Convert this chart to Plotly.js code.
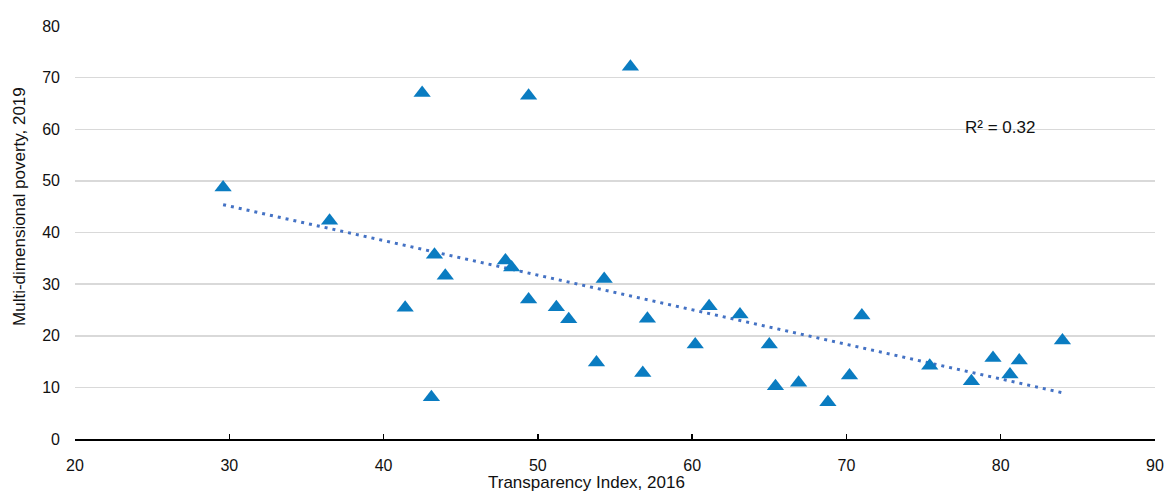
<!DOCTYPE html>
<html>
<head>
<meta charset="utf-8">
<script src="https://cdn.plot.ly/plotly-3.0.1.min.js"></script>
<style>
  html, body { margin: 0; padding: 0; background: #fff; }
  #chart { width: 1167px; height: 494px; }
</style>
</head>
<body>
<div id="chart"></div>
<script>
// Transparency Index (2016) against multi-dimensional poverty (2019), one point per country
const transparencyIndex = [
  29.6, 36.5, 42.5, 43.3, 41.4, 44.0, 43.1, 49.4, 56.0, 47.9, 48.3,
  49.4, 51.2, 52.0, 54.3, 53.8, 57.1, 56.8, 60.2, 61.1, 63.1, 65.0,
  65.4, 66.9, 68.8, 70.2, 71.0, 75.4, 78.1, 79.5, 80.6, 81.2, 84.0
];
const multiDimPoverty = [
  48.7, 42.3, 67.0, 35.7, 25.4, 31.6, 8.1, 66.5, 72.1, 34.6, 33.2,
  27.0, 25.5, 23.2, 31.0, 14.8, 23.3, 12.8, 18.3, 25.7, 24.1, 18.3,
  10.2, 10.9, 7.1, 12.3, 23.9, 14.2, 11.2, 15.7, 12.5, 15.2, 19.1
];
const xTickValues = [20, 30, 40, 50, 60, 70, 80, 90];
const yTickValues = [0, 10, 20, 30, 40, 50, 60, 70, 80];
const xAxisLabel = 'Transparency Index, 2016';
const yAxisLabel = 'Multi-dimensional poverty, 2019';
const rSquaredLabel = 'R² = 0.32';

// Ordinary least-squares trend line over the observed x range
function linearFit(xs, ys) {
  const n = xs.length;
  const mx = xs.reduce((a, b) => a + b, 0) / n;
  const my = ys.reduce((a, b) => a + b, 0) / n;
  let sxy = 0, sxx = 0;
  for (let i = 0; i < n; i++) {
    sxy += (xs[i] - mx) * (ys[i] - my);
    sxx += (xs[i] - mx) * (xs[i] - mx);
  }
  const slope = sxy / sxx;
  return { slope: slope, intercept: my - slope * mx };
}
const fit = linearFit(transparencyIndex, multiDimPoverty);
const xMin = Math.min(...transparencyIndex);
const xMax = Math.max(...transparencyIndex);
const trendX = [xMin, xMax];
const trendY = trendX.map(x => fit.intercept + fit.slope * x);

const font = 'Liberation Sans, Arial, sans-serif';

const traces = [
  {
    x: trendX, y: trendY,
    type: 'scatter', mode: 'lines',
    line: { color: '#4472C4', width: 3, dash: '3px,5px' },
    hoverinfo: 'skip'
  },
  {
    x: transparencyIndex, y: multiDimPoverty,
    type: 'scatter', mode: 'markers',
    marker: { symbol: 'triangle-up', size: 15, color: '#0A7CC1' }
  }
];

const layout = {
  width: 1167, height: 494,
  margin: { l: 75, r: 12, t: 26, b: 55 },
  paper_bgcolor: '#fff', plot_bgcolor: '#fff',
  showlegend: false,
  font: { family: font, size: 16, color: '#111' },
  xaxis: {
    range: [20, 90],
    tickvals: xTickValues,
    showgrid: false, zeroline: false,
    showline: true, linecolor: '#000', linewidth: 1.5,
    ticks: 'inside', ticklen: 5, tickwidth: 1.3, tickcolor: '#000',
    ticklabelstandoff: 11,
    tickfont: { family: font, size: 16, color: '#111' }
  },
  yaxis: {
    range: [0, 80],
    tickvals: yTickValues,
    showgrid: true, gridcolor: '#D9D9D9', gridwidth: 1.5,
    zeroline: false, showline: false, ticks: '',
    ticklabelstandoff: 14,
    tickfont: { family: font, size: 16, color: '#111' }
  },
  annotations: [
    {
      text: rSquaredLabel, xref: 'x', yref: 'y', x: 77.55, y: 60.3,
      xanchor: 'left', yanchor: 'middle', showarrow: false,
      font: { family: font, size: 17, color: '#111' }
    },
    {
      text: xAxisLabel, xref: 'paper', yref: 'paper', x: 0.474, y: -0.131,
      xanchor: 'center', yanchor: 'bottom', showarrow: false, borderpad: 0,
      font: { family: font, size: 17, color: '#111' }
    },
    {
      text: yAxisLabel, xref: 'paper', yref: 'paper', x: -0.0514, y: 0.563,
      xanchor: 'center', yanchor: 'middle', textangle: -90, showarrow: false,
      font: { family: font, size: 17, color: '#111' }
    }
  ]
};

Plotly.newPlot('chart', traces, layout, { displayModeBar: false, staticPlot: true });
</script>
</body>
</html>
